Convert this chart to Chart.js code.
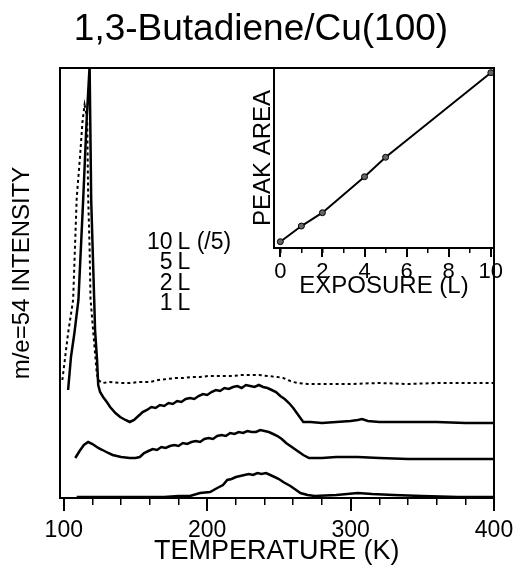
<!DOCTYPE html>
<html>
<head>
<meta charset="utf-8">
<script src="https://cdn.jsdelivr.net/npm/chart.js@4.4.0/dist/chart.umd.min.js"></script>
<style>
html, body { margin: 0; padding: 0; background: #fff; }
#wrap { position: relative; width: 515px; height: 568px; }
#main { position: absolute; left: 0; top: 0; }
#inset { position: absolute; left: 240px; top: 60px; }
</style>
</head>
<body>
<div id="wrap">
<canvas id="main" width="515" height="568"></canvas>
<canvas id="inset" width="270" height="250"></canvas>
</div>
<script>
// TPD traces, m/e=54 (arb. units)
var temp10L = [99, 103, 106.5, 109, 111.4, 113, 114.5, 116.3, 117, 118, 118.6, 120, 123, 124, 127, 132, 140, 146, 153, 160, 166, 172, 178, 183, 189, 195, 201, 207, 213, 218, 224, 230, 236, 242, 249, 253, 258, 260, 263, 270, 285, 300, 320, 340, 360, 380, 400];
var int10L  = [118, 165, 198, 300, 343, 376, 393, 380, 300, 250, 200, 175, 125, 118, 115, 116, 115, 115, 116, 116, 118, 119, 120, 120, 121, 121, 122, 122, 122, 122, 123, 123, 123, 122, 121, 120, 117, 116, 115, 114, 114, 114, 115, 114, 115, 115, 115];

var temp5L = [103, 105, 107.4, 110.2, 113.5, 116, 118, 119.1, 121.2, 121.8, 123.2, 124, 125.3, 127.4, 130, 132.3, 136, 139.3, 143, 146, 149, 152, 155, 158, 161, 164, 167, 170, 173, 176, 179, 182, 185, 188, 191, 194, 197, 200, 203, 206, 209, 212, 215, 218, 221, 224, 227, 230, 233, 236, 239, 242, 245, 248, 251, 254, 257, 260, 263, 265, 267, 272, 280, 290, 300, 305, 308, 312, 320, 340, 360, 380, 400];
var int5L  = [108, 141, 165, 198, 298, 380, 432, 298, 198, 168, 138, 113, 106, 101, 96, 91, 85, 81, 78, 76, 78, 82, 86, 88, 91, 90, 93, 92, 95, 94, 97, 96, 99, 100, 99, 102, 104, 103, 106, 108, 107, 110, 109, 111, 112, 110, 113, 112, 111, 113, 111, 110, 108, 106, 102, 99, 95, 90, 84, 80, 76, 76, 75, 76, 77, 78, 79, 77, 76, 76, 76, 75, 75];

var temp2L = [108, 111, 114, 117, 120, 124, 127, 131, 134, 140, 146, 150, 153, 156, 159, 162, 165, 168, 171, 174, 177, 180, 183, 186, 189, 192, 195, 198, 201, 204, 207, 210, 213, 216, 219, 222, 225, 228, 231, 234, 237, 240, 243, 246, 249, 252, 255, 258, 261, 264, 267, 271, 280, 290, 305, 320, 340, 360, 380, 400];
var int2L  = [40, 47, 53, 56, 54, 50, 48, 45, 43, 41, 40, 40, 41, 45, 47, 49, 48, 51, 50, 52, 53, 52, 55, 54, 56, 57, 56, 59, 60, 59, 62, 63, 62, 65, 64, 66, 65, 67, 66, 66, 68, 67, 66, 64, 62, 59, 55, 52, 49, 46, 43, 40, 40, 41, 41, 40, 39, 39, 39, 39];

var temp1L = [109, 130, 150, 170, 180, 188, 195, 202, 207, 211, 214, 217, 220, 223, 226, 229, 232, 235, 238, 241, 244, 247, 250, 253, 258, 262, 265, 270, 275, 290, 305, 315, 330, 350, 375, 400];
var int1L  = [1, 1, 1, 1, 2, 2, 5, 6, 10, 13, 18, 19, 21, 22, 23, 24, 23, 25, 24, 25, 23, 21, 19, 16, 12, 8, 5, 3, 2, 3, 5, 4, 3, 2, 1, 1];

var labelNums  = ['10', '5', '2', '1'];
var labelUnits = ['L (/5)', 'L', 'L', 'L'];
var tempTicks = [100, 200, 300, 400];

// inset: peak area vs exposure
var exposure = [0, 1, 2, 4, 5, 10];
var peakArea = [0.35, 1.22, 1.96, 3.96, 5.04, 9.74];
var exposureTicks = [0, 2, 4, 6, 8, 10];

Chart.defaults.font.family = '"Liberation Sans", Arial, sans-serif';
Chart.defaults.color = '#000';

function pts(xs, ys) {
    return xs.map((x, i) => ({x: x, y: ys[i]}));
}

var frame = {display: true, color: '#000', width: 2};

function setTicks(list) {
    return (s) => { s.ticks = list.map(v => ({value: v})); };
}

// text labels next to the peak
var seriesLabels = {
    id: 'seriesLabels',
    afterDatasetsDraw(chart) {
	const {ctx, chartArea} = chart;
	ctx.save();
	ctx.font = '23px "Liberation Sans", Arial, sans-serif';
	ctx.fillStyle = '#000';
	ctx.textBaseline = 'alphabetic';
	labelNums.forEach((n, i) => {
	    const y = chartArea.top + 181 + i * 20.3;
	    ctx.textAlign = 'right';
	    ctx.fillText(n, chartArea.left + 113, y);
	    ctx.textAlign = 'left';
	    ctx.fillText(labelUnits[i], chartArea.left + 118, y);
	});
	ctx.restore();
    }
};

var lineStyle = {borderColor: '#000', borderWidth: 2.5, pointRadius: 0, tension: 0, fill: false, xAxisID: 'x', yAxisID: 'y'};

var mainChart = new Chart(document.getElementById('main'), {
    type: 'line',
    data: {
	datasets: [
	    Object.assign({label: '10 L (/5)', data: pts(temp10L, int10L)}, lineStyle, {borderDash: [3, 3], borderWidth: 2}),
	    Object.assign({label: '5 L', data: pts(temp5L, int5L)}, lineStyle),
	    Object.assign({label: '2 L', data: pts(temp2L, int2L)}, lineStyle),
	    Object.assign({label: '1 L', data: pts(temp1L, int1L)}, lineStyle)
	]
    },
    options: {
	responsive: false,
	animation: false,
	layout: {padding: {left: 7, right: 0, top: 0, bottom: 0}},
	plugins: {
	    legend: {display: false},
	    tooltip: {enabled: false},
	    title: {
		display: true,
		text: '1,3-Butadiene/Cu(100)',
		font: {size: 37, weight: 'normal'},
		color: '#000',
		padding: {top: 8, bottom: 15.6}
	    }
	},
	scales: {
	    xMinor: {
		type: 'linear', axis: 'x', position: 'bottom', weight: 0, min: 97, max: 400,
		ticks: {display: false, stepSize: 20, includeBounds: false},
		grid: {display: true, drawOnChartArea: false, drawTicks: true, tickLength: 7, color: '#000', lineWidth: 1.5},
		border: {display: false},
		afterFit: (s) => { s.height = 0; s.paddingLeft = 0; s.paddingRight = 0; }
	    },
	    x: {
		type: 'linear', axis: 'x', position: 'bottom', weight: 1, min: 97, max: 400,
		afterBuildTicks: setTicks(tempTicks),
		ticks: {font: {size: 23}, color: '#000', padding: 6, maxRotation: 0},
		grid: {display: true, drawOnChartArea: false, drawTicks: true, tickLength: 13, color: '#000', lineWidth: 2},
		border: frame,
		title: {display: true, text: 'TEMPERATURE (K)', font: {size: 27}, color: '#000', padding: {top: 0, bottom: 0}},
		afterFit: (s) => { s.height = 70; s.paddingLeft = 0; s.paddingRight = 0; }
	    },
	    xTop: {
		type: 'linear', axis: 'x', position: 'top', min: 97, max: 400,
		ticks: {display: false}, grid: {display: false}, border: frame,
		afterFit: (s) => { s.height = 0; }
	    },
	    y: {
		type: 'linear', axis: 'y', position: 'left', min: 0, max: 430,
		ticks: {display: false}, grid: {display: false}, border: frame,
		title: {display: true, text: '   m/e=54 INTENSITY', font: {size: 24}, color: '#000', padding: {top: 1.4, bottom: 0}},
		afterFit: (s) => { s.width = 52.5; }
	    },
	    yRight: {
		type: 'linear', axis: 'y', position: 'right', min: 0, max: 430,
		ticks: {display: false}, grid: {display: false}, border: frame,
		afterFit: (s) => { s.width = 21; }
	    }
	}
    },
    plugins: [seriesLabels]
});

var insetChart = new Chart(document.getElementById('inset'), {
    type: 'line',
    data: {
	datasets: [{
	    label: 'peak area',
	    data: pts(exposure, peakArea),
	    borderColor: '#000',
	    borderWidth: 2,
	    pointRadius: 3,
	    pointBackgroundColor: '#666',
	    pointBorderColor: '#000',
	    pointBorderWidth: 1,
	    tension: 0,
	    fill: false,
	    xAxisID: 'x',
	    yAxisID: 'y'
	}]
    },
    options: {
	responsive: false,
	animation: false,
	layout: {padding: {left: 0, right: 0, top: 8, bottom: 0}},
	plugins: {legend: {display: false}, tooltip: {enabled: false}},
	scales: {
	    xMinor: {
		type: 'linear', axis: 'x', position: 'bottom', weight: 0, min: -0.3, max: 10.15,
		ticks: {display: false, stepSize: 1, includeBounds: false},
		grid: {display: true, drawOnChartArea: false, drawTicks: true, tickLength: 5, color: '#000', lineWidth: 1.5},
		border: {display: false},
		afterFit: (s) => { s.height = 0; s.paddingLeft = 0; s.paddingRight = 0; }
	    },
	    x: {
		type: 'linear', axis: 'x', position: 'bottom', weight: 1, min: -0.3, max: 10.15,
		afterBuildTicks: setTicks(exposureTicks),
		ticks: {font: {size: 22}, color: '#000', padding: 2, maxRotation: 0},
		grid: {display: true, drawOnChartArea: false, drawTicks: true, tickLength: 9, color: '#000', lineWidth: 2},
		border: frame,
		title: {display: true, text: 'EXPOSURE (L)', font: {size: 24}, color: '#000', padding: {top: 0, bottom: 9}},
		afterFit: (s) => { s.height = 62; s.paddingLeft = 0; s.paddingRight = 0; }
	    },
	    xTop: {
		type: 'linear', axis: 'x', position: 'top', min: -0.3, max: 10.15,
		ticks: {display: false}, grid: {display: false}, border: frame,
		afterFit: (s) => { s.height = 0; }
	    },
	    y: {
		type: 'linear', axis: 'y', position: 'left', min: 0, max: 10,
		ticks: {display: false}, grid: {display: false}, border: frame,
		title: {display: true, text: 'PEAK AREA', font: {size: 24}, color: '#000', padding: {top: 8.6, bottom: 0}},
		afterFit: (s) => { s.width = 34; }
	    },
	    yRight: {
		type: 'linear', axis: 'y', position: 'right', min: 0, max: 10,
		ticks: {display: false}, grid: {display: false}, border: frame,
		afterFit: (s) => { s.width = 16; }
	    }
	}
    }
});
</script>
</body>
</html>
